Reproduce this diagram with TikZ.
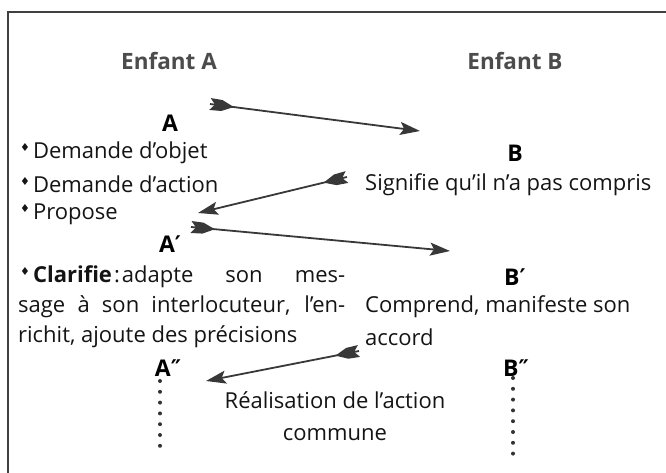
\documentclass[tikz,border=0pt]{standalone}
\usepackage{fontspec}
\setmainfont{Open Sans}
\newfontfamily\symfont{DejaVu Sans}
\usetikzlibrary{arrows.meta,calc}
\definecolor{arrowcol}{gray}{0.22}
\newcommand{\bul}{\raisebox{0.58ex}{\symfont\fontsize{11}{11}\selectfont ♦}\hspace{3pt}}
\newcommand{\pr}{{\symfont ′}}
\newcommand{\dpr}{{\symfont ″}}
% feathered tail of an exchange arrow, from #1 pointing towards #2
\newcommand{\fletching}[2]{%
  \fill[arrowcol] ($(#1)!6pt!90:(#2)$) -- ($(#1)!5pt!(#2)$) -- ($(#1)!6pt!-90:(#2)$)
    -- ($(#1)!12pt!(#2)!5.5pt!-90:(#2)$) -- ($(#1)!24pt!(#2)$)
    -- ($(#1)!12pt!(#2)!5.5pt!90:(#2)$) -- cycle;}
\begin{document}
\begin{tikzpicture}[x=1pt,y=-1pt,
  txt/.style={inner sep=0pt, font=\fontsize{22}{32}\selectfont, text=black!92},
  colhead/.style={inner sep=0pt, font=\fontsize{22.5}{26}\selectfont\bfseries, text=black!70},
  turn/.style={inner sep=0pt, font=\fontsize{23}{26}\selectfont\bfseries, text=black},
  link/.style={draw=arrowcol, line width=1.8pt, -{Stealth[length=20pt,width=13pt,inset=4pt]}},
  dotline/.style={draw=black!80, line width=4pt, line cap=round, dash pattern=on 0pt off 10.8pt}
]
\useasboundingbox (0,0) rectangle (666,473);
% frame
\draw[black!75, line width=2pt] (8,473) -- (8,12) -- (666,12);

% column headings
\node[colhead] (enfA) at (169,61) {Enfant A};
\node[colhead] (enfB) at (515,61) {Enfant B};

% child A turns
\node[turn] (nA) at (170,123) {A};
\node[txt, anchor=west] (a1) at (20,153) {\bul Demande d’objet};
\node[txt, anchor=west] (a2) at (20,184) {\bul Demande d’action};
\node[txt, anchor=west] (a3) at (20,214) {\bul Propose};
\node[turn] (nA1) at (170,244) {A\pr};
\node[txt, anchor=west] (clar1) at (20,277) {\makebox[325pt][s]{\bul\textbf{Clarifie}\hspace{2pt}:\hspace{2pt}adapte son mes-}};
\node[txt, anchor=west] (clar2) at (18,307) {\makebox[327pt][s]{sage à son interlocuteur, l’en-}};
\node[txt, anchor=west] (clar3) at (18,337) {richit, ajoute des précisions};
\node[turn] (nA2) at (168,368) {A\dpr};

% child B turns
\node[turn] (nB) at (515,153) {B};
\node[txt, anchor=west] (sig) at (365,185) {Signifie qu’il n’a pas compris};
\node[turn] (nB1) at (515,277) {B\pr};
\node[txt, anchor=west] (comp1) at (365,307) {Comprend, manifeste son};
\node[txt, anchor=west] (comp2) at (365,337) {accord};
\node[turn] (nB2) at (516,368) {B\dpr};

% joint action
\node[txt, align=center] (real) at (335,416) {Réalisation de l’action\\commune};

% exchange arrows
\coordinate (t1) at (210,104); \coordinate (h1) at (420,131);
\coordinate (t2) at (347,177); \coordinate (h2) at (198,213);
\coordinate (t3) at (191,227); \coordinate (h3) at (450,251);
\coordinate (t4) at (359,351); \coordinate (h4) at (206,381);
\draw[link] (t1) -- (h1); \fletching{t1}{h1}
\draw[link] (t2) -- (h2); \fletching{t2}{h2}
\draw[link] (t3) -- (h3); \fletching{t3}{h3}
\draw[link] (t4) -- (h4); \fletching{t4}{h4}

% continuation dots
\coordinate (da) at (160,456);
\coordinate (db) at (513,456);
\draw[dotline] (160,381) -- (da);
\draw[dotline] (513,378) -- (db);
\end{tikzpicture}
\end{document}
